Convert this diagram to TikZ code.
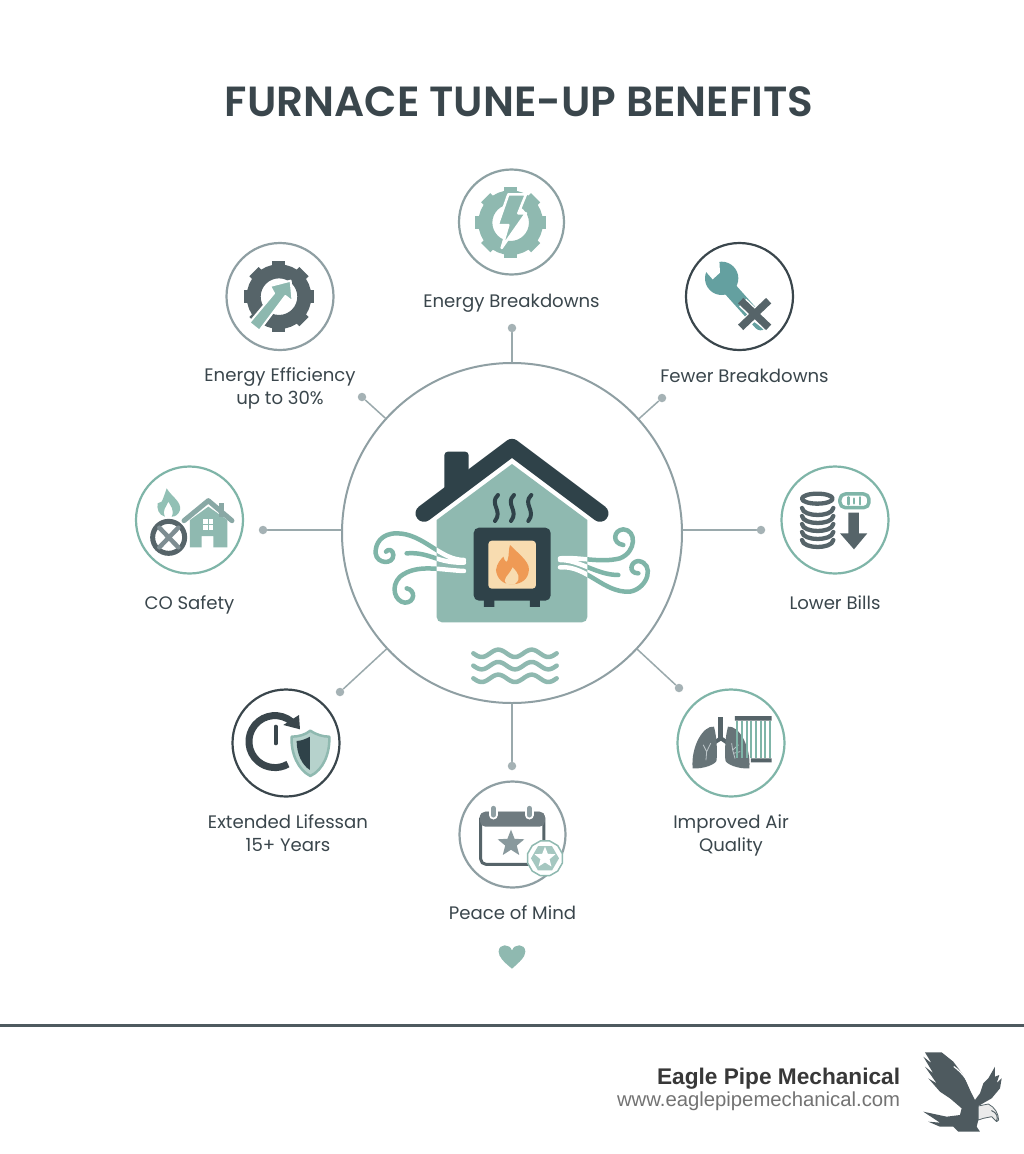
\documentclass[tikz,border=0pt]{standalone}
\usepackage{fontspec}
\setmainfont{Poppins}
\newfontfamily\headfont{Poppins}[UprightFont=* SemiBold]
\newfontfamily\footfont{Liberation Sans}
\usetikzlibrary{positioning,shapes.geometric,arrows.meta}
\definecolor{slate}{HTML}{2F4249}
\definecolor{ink}{HTML}{3A464C}
\definecolor{steel}{HTML}{566469}
\definecolor{haze}{HTML}{8F9FA3}
\definecolor{sage}{HTML}{8FB9B0}
\definecolor{mint}{HTML}{7FB5A8}
\definecolor{petrol}{HTML}{64A0A0}
\definecolor{flame}{HTML}{EF9A55}
\definecolor{glow}{HTML}{F8DCB0}
\newcommand{\pxw}{0.569pt}
\tikzset{
  ring/.style={circle,draw=#1,line width=2.2*\pxw,minimum size=107*0.02cm,inner sep=0pt},
  caption/.style={font=\fontsize{10.3}{13.1}\selectfont,text=ink,align=center,inner sep=0pt},
  hubdot/.style={circle,fill=haze!80,minimum size=8.5*0.02cm,inner sep=0pt},
  spoke/.style={draw=haze!90,line width=1.5*\pxw},
  zoomed/.style={x=0.02cm/3,y=-0.02cm/3}
}
% teeth and ring of a gear, in zoomed coordinates
\newcommand{\gearat}[3]{
  \foreach \a in {0,45,...,315}
    \draw [#3,line width=13*\pxw,line cap=butt,shift={(#1,#2)}] (\a:72) -- (\a:106);
  \draw [#3,line width=14*\pxw] (#1,#2) circle (76);
}
\newcommand{\windpaths}{
  (372,600) .. controls (300,600) and (250,520) .. (170,520) .. controls (125,520) and (105,550) .. (107,580) .. controls (110,612) and (160,615) .. (160,585) .. controls (160,570) and (145,565) .. (138,575)
  (200,580) .. controls (270,575) and (290,610) .. (372,608)
  (372,633) .. controls (300,630) and (230,610) .. (180,650) .. controls (150,680) and (165,725) .. (195,728) .. controls (225,728) and (228,690) .. (200,685)
  (660,595) .. controls (720,590) and (780,610) .. (840,595) .. controls (890,575) and (890,510) .. (850,508) .. controls (820,510) and (815,550) .. (850,555)
  (660,600) .. controls (720,600) and (770,645) .. (835,645)
  (660,622) .. controls (740,615) and (790,700) .. (870,695) .. controls (925,685) and (945,610) .. (895,603) .. controls (870,605) and (865,640) .. (895,640)
}
\begin{document}
\begin{tikzpicture}[x=0.02cm,y=-0.02cm,node distance=1.58cm,line cap=round,line join=round]
\useasboundingbox (0,0) rectangle (1024,1154);
\fill [white] (0,0) rectangle (1024,1154);
\node at (519,102) (heading) {\headfont\fontsize{24}{28}\selectfont\color{ink}FURNACE TUNE-UP BENEFITS};

% hub with its spokes
\node [circle,draw=haze,line width=2*\pxw,minimum size=340*0.02cm,inner sep=0pt] at (512,533) (hub) {};
\node [hubdot] at (512,328) (dtop) {};
\node [hubdot] at (362,397) (dleft) {};
\node [hubdot] at (662,398) (dright) {};
\node [hubdot] at (263,530) (dwest) {};
\node [hubdot] at (761,530) (deast) {};
\node [hubdot] at (340,692) (dlow) {};
\node [hubdot] at (679,688) (dair) {};
\node [hubdot] at (512,766) (dbase) {};
\draw [spoke] (hub) -- (dtop);
\draw [spoke] (hub) -- (dleft);
\draw [spoke] (hub) -- (dright);
\draw [spoke] (dwest -| hub.west) -- (dwest);
\draw [spoke] (deast -| hub.east) -- (deast);
\draw [spoke] (hub) -- (dlow);
\draw [spoke] (hub) -- (dair);
\draw [spoke] (hub) -- (dbase);

% rings and their captions
\node [ring=haze!90!mint,minimum size=105*0.02cm] at (511.5,222) (rbolt) {};
\node [ring=haze] at (280,296.5) (rgear) {};
\node [ring=ink] at (739.5,296.5) (rwrench) {};
\node [ring=mint] at (835,520) (rbills) {};
\node [ring=mint] at (189.5,520) (rsafety) {};
\node [ring=ink] at (286,743) (rshield) {};
\node [ring=mint] at (731,743) (rair) {};
\node [ring=haze,minimum size=106*0.02cm] at (512.5,834.5) (rpeace) {};
\node [caption,below of=rbolt,yshift=-.04cm] (cbolt) {Energy Breakdowns};
\node [caption,below of=rgear,yshift=-.25cm] (cgear) {Energy Efficiency\\up to 30\%};
\node [caption,below of=rwrench,xshift=.1cm] (cwrench) {Fewer Breakdowns};
\node [caption,below of=rbills,yshift=-.08cm] (cbills) {Lower Bills};
\node [caption,below of=rsafety,yshift=-.12cm] (csafety) {CO Safety};
\node [caption,below of=rshield,yshift=-.23cm,xshift=.04cm] (cshield) {Extended Lifessan\\15+ Years};
\node [caption,below of=rair,yshift=-.27cm] (cair) {Improved Air\\Quality};
\node [caption,below of=rpeace,yshift=.02cm] (cpeace) {Peace of Mind};

% house in the hub
\begin{scope}[shift={(340,360)},zoomed]
\fill [sage] (290,480) -- (516,312) -- (742,480) [rounded corners=3pt] -- (742,787) -- (290,787) [sharp corners] -- cycle;
\fill [slate,rounded corners=2pt] (313,400) -- (313,275) -- (386,275) -- (386,340) -- cycle;
\draw [slate,line width=17*\pxw] (252,460) -- (516,262) -- (780,460);
\draw [line width=4.5*\pxw,mint] \windpaths;
\begin{scope}
\clip (290,480) -- (516,312) -- (742,480) -- (742,787) -- (290,787) -- cycle;
\draw [line width=4.5*\pxw,white] \windpaths;
\end{scope}
\fill [slate] (432,700) rectangle (463,741) (570,700) rectangle (600,741);
\fill [slate,rounded corners=3pt] (401,503) rectangle (632,722);
\fill [glow,rounded corners=2pt] (445,542) rectangle (588,686);
\fill [flame] (510,555) .. controls (545,590) and (575,610) .. (565,640) .. controls (560,665) and (530,675) .. (515,672) .. controls (490,675) and (470,655) .. (468,630) .. controls (470,610) and (485,595) .. (490,590) .. controls (495,605) and (500,610) .. (503,600) .. controls (508,585) and (505,570) .. (510,555) -- cycle;
\fill [glow] (518,622) .. controls (535,640) and (545,655) .. (525,672) -- (500,672) .. controls (485,655) and (505,650) .. (518,622) -- cycle;
\foreach \x in {468,516,568}
  \draw [slate,line width=4*\pxw] (\x+6,405) .. controls (\x-22,432) and (\x+22,452) .. (\x-3,483);
\foreach \yy in {880,917,955}
  \draw [sage,line width=4.5*\pxw] plot[domain=400:650,samples=60] (\x,{\yy+11*sin((\x-400)*3.6)});
\end{scope}

% bolt in a gear
\begin{scope}[shift={(200,160)},zoomed]
\gearat{932}{188}{sage}
\fill [sage,draw=white,line width=2.5*\pxw] (925,103) -- (978,103) -- (955,160) -- (978,160) -- (905,264) -- (925,195) -- (893,195) -- cycle;
% arrow in a gear
\gearat{237}{410}{steel}
\fill [sage!85!mint,draw=white,line width=2*\pxw] (148,488) -- (222,400) -- (210,378) -- (272,362) -- (278,425) -- (256,408) -- (178,512) -- cycle;
\end{scope}

% wrench with a cross
\begin{scope}[shift={(670,230)},zoomed]
\draw [petrol,line width=14*\pxw] (160,155) -- (272,280);
\draw [white,line width=2.5*\pxw] (240,262) -- (272,285);
\fill [petrol] (155,145) circle (50);
\fill [white] (148,90) -- (150,128) -- (128,148) -- (108,125) -- (100,98) -- cycle;
\draw [white,line width=10.5*\pxw,line cap=butt] (218,218) -- (292,288) (292,218) -- (218,288);
\draw [steel,line width=7.5*\pxw,line cap=butt] (212,212) -- (296,292) (296,212) -- (212,292);
% coins and arrow
\foreach \y in {938,914,890,866,842}
  \draw [steel,line width=4.3*\pxw] (396,\y-8) .. controls (400,\y+20) and (486,\y+20) .. (490,\y-8);
\draw [steel,line width=4.3*\pxw,fill=white] (442,806) ellipse (46 and 15);
\fill [steel] (535,848) rectangle (567,910) (510,910) -- (592,910) -- (552,958) -- cycle;
\draw [mint,line width=3.5*\pxw,rounded corners=3pt] (510,792) rectangle (597,833);
\draw [mint,line width=2.5*\pxw] (535,802) -- (535,823) (552,806) -- (552,820) (570,802) -- (570,823);
\end{scope}

% flame, blocked gauge and small house
\begin{scope}[shift={(120,460)},zoomed]
\fill [mint!85] (140,85) .. controls (155,110) and (185,125) .. (180,150) .. controls (175,165) and (165,170) .. (155,170) .. controls (165,150) and (150,135) .. (145,125) .. controls (140,140) and (125,150) .. (135,170) .. controls (115,165) and (110,145) .. (113,130) -- (125,125) .. controls (130,115) and (135,100) .. (140,85) -- cycle;
\draw [steel,line width=5*\pxw,fill=white] (146,232) circle (48);
\draw [haze!70!steel,line width=4.5*\pxw] (118,203) -- (175,262) (175,203) -- (118,262);
\fill [sage] (210,180) -- (265,140) -- (322,180) -- (322,262) -- (280,262) -- (280,228) -- (245,228) -- (245,262) -- (210,262) -- cycle;
\fill [white] (250,178) rectangle (280,210);
\draw [sage,line width=1.5*\pxw] (265,178) -- (265,210) (250,194) -- (280,194);
\fill [haze!60!mint] (298,128) rectangle (312,170);
\draw [haze!60!mint,line width=5*\pxw] (192,182) -- (265,122) -- (336,182);
% clock arrow and shield
\draw [ink,line width=7*\pxw,line cap=butt] (515,785) arc (-50:-300:78 and 78);
\fill [ink] (537,765) -- (540,808) -- (490,795) -- cycle;
\draw [ink,line width=4*\pxw] (467,800) -- (467,850);
\fill [sage!65,draw=sage,line width=2.5*\pxw,preaction={draw=white,line width=6*\pxw}] (571,812) .. controls (590,825) and (610,830) .. (628,830) .. controls (630,880) and (610,930) .. (571,948) .. controls (535,930) and (512,880) .. (515,830) .. controls (535,830) and (555,825) .. (571,812) -- cycle;
\fill [slate] (570,830) .. controls (555,838) and (545,842) .. (530,843) .. controls (530,880) and (545,915) .. (570,930) -- cycle;
\end{scope}

% lungs and filter
\begin{scope}[shift={(440,680)},zoomed]
\fill [steel] (835,110) rectangle (850,180);
\draw [steel,line width=4*\pxw] (843,175) -- (822,188) (843,175) -- (862,188);
\fill [steel!90] (822,140) .. controls (790,135) and (752,200) .. (758,265) .. controls (790,268) and (830,252) .. (830,240) .. controls (832,205) and (830,170) .. (822,140) -- cycle;
\fill [steel!90] (864,140) .. controls (896,135) and (934,200) .. (928,265) .. controls (896,268) and (856,252) .. (856,240) .. controls (854,205) and (856,170) .. (864,140) -- cycle;
\draw [haze!60,line width=.8*\pxw] (798,240) -- (800,215) -- (790,195) (800,215) -- (812,190) (885,235) -- (878,210) -- (875,190) (878,210) -- (895,195) (880,220) -- (900,215);
\fill [steel] (885,108) rectangle (995,122) (933,235) rectangle (995,247);
\foreach \x in {892,906,...,990}
  \draw [mint,line width=2*\pxw,line cap=butt] (\x,122) -- (\x,235);
% calendar and badge
\draw [steel,line width=3*\pxw,fill=white,rounded corners=3pt] (122,400) rectangle (312,553);
\fill [steel!85!white,rounded corners=3pt] (120,395) -- (315,395) -- (315,440) -- (120,440) -- cycle;
\foreach \x in {160,268} {
  \draw [white,line width=9*\pxw] (\x,385) -- (\x,405);
  \draw [haze,line width=5*\pxw] (\x,385) -- (\x,405);
}
\node [star,star points=5,star point ratio=2.3,fill=haze!90!steel,minimum size=42*0.02cm/1.5,inner sep=0pt] at (213,491) (calstar) {};
\node [regular polygon,regular polygon sides=12,draw=sage,fill=white,line width=1.5*\pxw,minimum size=36*0.02cm,inner sep=0pt] at (315,535) (badgeedge) {};
\node [regular polygon,regular polygon sides=6,fill=sage!80,minimum size=28*0.02cm,inner sep=0pt] at (315,535) (badge) {};
\node [star,star points=5,star point ratio=2.3,fill=white,minimum size=22*0.02cm,inner sep=0pt] at (315,533) (badgestar) {};
\fill [sage] (216,866) .. controls (190,845) and (176,830) .. (176,815) .. controls (176,790) and (210,790) .. (216,812) .. controls (222,790) and (256,790) .. (256,815) .. controls (256,830) and (240,845) .. (216,866) -- cycle;
\end{scope}

% footer band
\coordinate (footl) at (0,1025.5);
\coordinate (footr) at (1024,1025.5);
\draw [steel!90!black,line width=3*\pxw,line cap=butt] (footl) -- (footr);
\node [anchor=east,inner sep=0pt,font=\footfont\bfseries\fontsize{12.9}{16}\selectfont,text=black!78] at (900.5,1079) (brand) {Eagle Pipe Mechanical};
\node [anchor=east,inner sep=0pt,font=\footfont\fontsize{11.55}{14}\selectfont,text=black!55] at (900.5,1101) (site) {www.eaglepipemechanical.com};
\begin{scope}[shift={(600,1020)},zoomed]
\fill [steel!90!black] (975,97) -- (1025,97) -- (1060,125) -- (1090,165) -- (1110,210) -- (1125,240) -- (1140,220) -- (1150,190) -- (1165,175) -- (1185,140) -- (1185,170) -- (1198,165) -- (1190,190) -- (1205,175) -- (1200,205) -- (1175,235) -- (1135,258) -- (1135,300) -- (1130,320) -- (1140,335) -- (1075,335) -- (1060,320) -- (1020,320) -- (985,305) -- (1020,308) -- (970,275) -- (1040,290) -- (1080,285) -- (1085,265) -- (1050,235) -- (1020,215) -- (985,175) -- (1010,190) -- (975,140) -- (1000,160) -- (970,110) -- (995,130) -- cycle;
\fill [white!92!black,draw=steel,line width=.8*\pxw] (1135,258) -- (1165,252) .. controls (1185,262) and (1195,280) .. (1196,300) -- (1190,305) -- (1175,290) -- (1150,295) -- (1135,300) -- cycle;
\draw [steel,line width=1*\pxw] (1175,272) .. controls (1190,278) and (1195,290) .. (1190,303);
\draw [white,line width=1.2*\pxw] (1062,140) .. controls (1090,160) and (1110,190) .. (1118,220);
\end{scope}
\end{tikzpicture}
\end{document}
